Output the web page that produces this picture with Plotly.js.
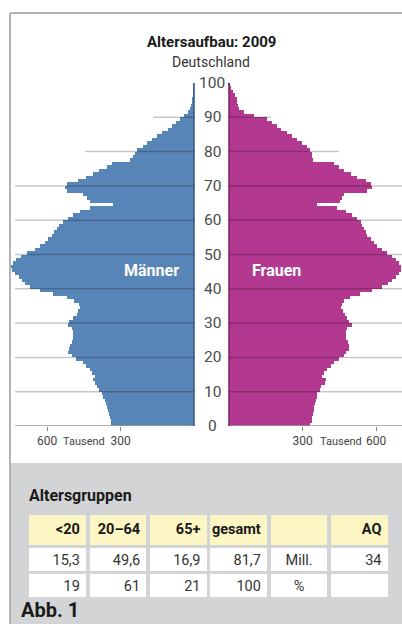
<!DOCTYPE html>
<html><head><meta charset="utf-8">
<script src="https://cdn.plot.ly/plotly-3.0.1.min.js"></script>
<style>html,body{margin:0;padding:0;background:#fff;}#chart{width:402px;height:624px;}</style>
</head><body><div id="chart"></div>
<script>
// ---- data ----
const ages = [0,1,2,3,4,5,6,7,8,9,10,11,12,13,14,15,16,17,18,19,20,21,22,23,24,25,26,27,28,29,30,31,32,33,34,35,36,37,38,39,40,41,42,43,44,45,46,47,48,49,50,51,52,53,54,55,56,57,58,59,60,61,62,63,64,65,66,67,68,69,70,71,72,73,74,75,76,77,78,79,80,81,82,83,84,85,86,87,88,89,90,91,92,93,94,95,96,97,98,99];
const maenner = [338,340,343,346,350,354,358,364,370,377,
 386,394,405,412,404,415,426,440,453,480,
 499,513,509,506,499,495,493,495,499,513,
 509,493,479,472,465,470,490,520,575,630,
 668,688,703,716,730,742,745,740,728,708,
 683,650,628,608,595,580,570,558,550,535,
 515,492,465,425,330,425,437,453,518,527,
 518,472,442,412,386,356,336,262,248,240,
 234,210,193,170,150,130,108,88,73,57,
 42,25,15,11,8,6,4,3,2,1];
const frauen = [330,338,340,343,345,347,352,354,358,361,
 370,374,393,395,381,388,401,415,429,449,
 469,477,490,490,486,479,476,476,480,503,
 490,480,472,465,458,460,470,492,535,585,
 625,650,667,680,694,703,701,692,680,667,
 646,626,605,592,578,565,558,551,544,537,
 524,503,478,442,360,455,462,470,565,585,
 580,558,524,497,469,449,429,344,340,340,
 331,317,299,279,258,238,211,195,177,156,
 102,61,41,37,34,31,23,18,10,4];
const ageTicks = [0,10,20,30,40,50,60,70,80,90,100];
const gridAges = [10,20,30,40,50,60,70,80,90];
const xTickVals = [300,600];
const xTickText = ['300','600'];
const tableHeader = ['&lt;20','20–64','65+','gesamt','','AQ'];
const rowMill = ['15,3','49,6','16,9','81,7','Mill.','34'];
const rowPct = ['19','61','21','100','%',''];

// ---- geometry / style ----
const W=402,H=624;
const PX=0.245;             // px per thousand
const baseL=194, baseR=229, leftEdge=11, lineStart=15, rightEdge=402;
const yTop=83, yBot=426;
const ext=4;
const rangeL=(baseL-leftEdge)/PX, rangeR=(rightEdge-baseR)/PX;
const gridFullL=(baseL-lineStart)/PX;
const FONT='Roboto, "Liberation Sans", sans-serif';
const BLUE='#5885b7', MAG='#b2398f';
const PANEL='#d3d4d6';

const gridReachL = {80:445, 90:167};
const gridReachR = {80:449, 90:170};

const shapes = [];
shapes.push({type:'rect',xref:'paper',yref:'paper',x0:11/W,x1:1,y0:0,y1:1-463/H,fillcolor:PANEL,line:{width:0},layer:'below'});
shapes.push({type:'line',xref:'paper',yref:'paper',x0:10/W,x1:1,y0:1-13/H,y1:1-13/H,line:{color:'#b3b3b3',width:2}});
shapes.push({type:'line',xref:'paper',yref:'paper',x0:10/W,x1:10/W,y0:0,y1:1-13/H,line:{color:'#b3b3b3',width:2}});
gridAges.forEach(a=>{
  shapes.push({type:'line',xref:'x',yref:'y',x0:gridReachL[a]||gridFullL,x1:-ext,y0:a,y1:a,line:{color:'rgba(0,0,0,0.22)',width:1.5},layer:'above'});
  shapes.push({type:'line',xref:'x2',yref:'y',x0:-ext,x1:gridReachR[a]||rangeR,y0:a,y1:a,line:{color:'rgba(0,0,0,0.22)',width:1.5},layer:'above'});
});
// baseline axis lines at age 0
shapes.push({type:'line',xref:'x',yref:'y',x0:gridFullL,x1:-ext,y0:0,y1:0,line:{color:'#9a9a9a',width:1.5},layer:'above'});
shapes.push({type:'line',xref:'x2',yref:'y',x0:-ext,x1:rangeR,y0:0,y1:0,line:{color:'#9a9a9a',width:1.5},layer:'above'});
shapes.push({type:'line',xref:'x',yref:'y',x0:0,x1:0,y0:0,y1:100,line:{color:'#34577f',width:1.5}});
shapes.push({type:'line',xref:'x2',yref:'y',x0:0,x1:0,y0:0,y1:100,line:{color:'#7d1f62',width:1.5}});

const ann = [];
ann.push({text:'<b>Altersaufbau: 2009</b>',x:211/W,y:1-42/H,font:{size:15,color:'#1a1a1a'}});
ann.push({text:'Deutschland',x:211/W,y:1-62/H,font:{size:14,color:'#333'}});
ageTicks.forEach(a=>ann.push({text:String(a),x:212/W,y:a,yref:'y',font:{size:15.5,color:'#4a4a4a'}}));
ann.push({text:'<b>Männer</b>',x:151.7/W,y:1-270.7/H,font:{size:16,color:'#fff'}});
ann.push({text:'<b>Frauen</b>',x:276/W,y:1-270.7/H,font:{size:16,color:'#fff'}});
ann.push({text:'Tausend',x:84/W,y:1-441.7/H,font:{size:11,color:'#444'}});
ann.push({text:'Tausend',x:341/W,y:1-441.7/H,font:{size:11,color:'#444'}});
ann.push({text:'<b>Altersgruppen</b>',x:27/W,y:1-496/H,xanchor:'left',font:{size:16,color:'#1a1a1a'}});
ann.push({text:'<b>Abb. 1</b>',x:19/W,y:0,xanchor:'left',yanchor:'bottom',font:{size:20,color:'#1a1a1a'}});
ann.forEach(a=>{a.showarrow=false; if(!a.xref)a.xref='paper'; if(!a.yref)a.yref='paper'; if(!a.xanchor)a.xanchor='center'; if(!a.yanchor)a.yanchor='middle';});

const axCommon = {showgrid:false,zeroline:false,showline:false,
  ticks:'outside',ticklen:4,tickcolor:'#888',tickwidth:1,tickvals:xTickVals,ticktext:xTickText,
  tickfont:{size:12,color:'#444'},fixedrange:true,anchor:'y'};

const traces = [
 {type:'bar',orientation:'h',x:maenner,y:ages,width:1,offset:0,xaxis:'x',yaxis:'y',
  marker:{color:BLUE,line:{width:0}},hoverinfo:'skip'},
 {type:'bar',orientation:'h',x:frauen,y:ages,width:1,offset:0,xaxis:'x2',yaxis:'y',
  marker:{color:MAG,line:{width:0}},hoverinfo:'skip'},
 {type:'table',domain:{x:[27.5/W,389.5/W],y:[0,1-513.3/H]},
  header:{values:tableHeader.map(h=>'<b>'+h+'</b>'),fill:{color:'#fcf5c4'},
    line:{color:PANEL,width:3.5},height:26.3,
    align:['right','right','right','right','center','right'],
    font:{family:FONT,size:14.5,color:'#1a1a1a'}},
  cells:{values:tableHeader.map((_,i)=>[rowMill[i],rowPct[i]]),fill:{color:'#ffffff'},
    line:{color:PANEL,width:3.5},height:26.3,
    align:['right','right','right','right','center','right'],
    font:{family:FONT,size:14.5,color:'#333'}}}
];

const layout = {width:W,height:H,margin:{l:0,r:0,t:0,b:0},showlegend:false,
 paper_bgcolor:'#fff',plot_bgcolor:'rgba(0,0,0,0)',bargap:0,
 font:{family:FONT,color:'#333'},
 xaxis:Object.assign({},axCommon,{domain:[leftEdge/W,(baseL+ext*PX)/W],range:[rangeL,-ext]}),
 xaxis2:Object.assign({},axCommon,{domain:[(baseR-ext*PX)/W,1],range:[-ext,rangeR]}),
 yaxis:{domain:[1-yBot/H,1-yTop/H],range:[0,100],showgrid:false,zeroline:false,showticklabels:false,ticks:'',showline:false,fixedrange:true},
 shapes:shapes,annotations:ann};

Plotly.newPlot('chart',traces,layout,{displayModeBar:false,responsive:false});
</script></body></html>
